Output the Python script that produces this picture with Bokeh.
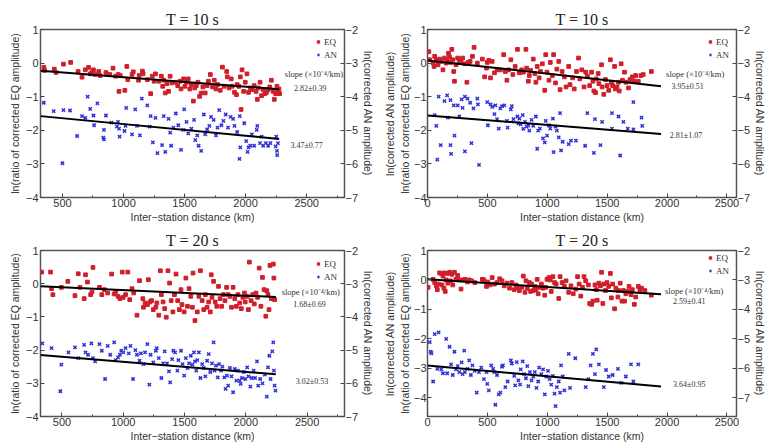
from bokeh.plotting import figure
from bokeh.models import Range1d, LinearAxis, SingleIntervalTicker, FixedTicker, Label
from bokeh.layouts import column, row
from bokeh.embed import file_html
from bokeh.resources import INLINE
import numpy as np

# ---------------- data ----------------
titles = ["T = 10 s", "T = 10 s", "T = 20 s", "T = 20 s"]
x_label = "Inter\u2212station distance (km)"
y_label_eq = "ln(ratio of corrected EQ amplitude)"
y_label_an = "ln(corrected AN amplitude)"
series_names = ["EQ", "AN"]
slope_title = "slope (\u00d710\u207b\u2074/km)"

# panel 1 (top left)
p1_eq_x = [348,353,433,447,508,567,628,660,687,714,727,741,754,767,797,808,856,888,914,936,957,963,973,1011,1027,1035,1070,1080,1123,1128,1155,1160,1195,1222,1235,1251,1262,1289,1310,1321,1329,1342,1356,1369,1382,1396,1422,1444,1463,1471,1492,1503,1516,1530,1543,1556,1572,1583,1596,1610,1623,1636,1650,1669,1685,1695,1711,1730,1743,1757,1770,1792,1810,1824,1845,1850,1864,1882,1890,1909,1925,1931,1944,1957,1963,1971,1984,1997,2011,2024,2038,2051,2070,2086,2096,2104,2118,2131,2144,2158,2171,2185,2198,2211,2225,2235,2246,2257,2265,2273,2278]
p1_eq_y = [-0.13,-0.22,-0.18,-0.28,-0.03,0.02,-0.25,-0.42,-0.20,-0.13,-0.32,-0.28,-0.20,-0.34,-0.25,-0.37,-0.28,-0.34,-0.15,-0.39,-0.34,-0.84,-0.37,-0.81,-0.10,-0.49,-0.34,-0.26,-0.51,-0.37,-0.24,-0.32,-0.49,-0.91,-0.39,-0.54,-0.32,-0.54,-0.39,-0.69,-0.51,-0.89,-0.61,-0.84,-0.39,-0.59,-0.57,-0.67,-0.54,-0.77,-0.47,-0.69,-0.57,-0.47,-0.77,-0.64,-1.13,-0.74,-0.67,-0.57,-0.99,-0.89,-0.71,-0.89,-0.67,-0.54,-0.34,-0.71,-0.51,-0.77,-0.64,-0.81,-0.12,-0.69,-0.25,-0.41,-0.74,-0.47,-0.69,-0.87,-0.94,-0.64,-0.69,-0.41,-1.38,-0.20,-0.84,-0.57,-0.32,-0.87,-0.74,-0.79,-0.67,-0.84,-1.08,-0.74,-0.57,-0.97,-0.79,-0.91,-0.87,-0.79,-0.71,-0.51,-0.84,-1.08,-0.91,-0.69,-0.85,-0.77,-0.91]
p1_an_x = [347,428,508,500,562,620,660,687,706,727,754,759,786,856,840,834,840,901,946,955,963,968,1008,1016,1022,1070,1096,1110,1134,1150,1195,1214,1222,1240,1262,1278,1316,1329,1342,1369,1382,1390,1409,1428,1449,1471,1489,1497,1516,1530,1556,1578,1588,1604,1615,1636,1658,1669,1685,1703,1717,1738,1757,1770,1784,1802,1818,1837,1856,1877,1898,1909,1931,1952,1957,1950,1989,2005,2016,2024,2038,2051,2070,2091,2096,2118,2131,2144,2166,2185,2203,2246,2251,2257,2265,2259]
p1_an_y = [-1.18,-1.43,-1.40,-2.98,-1.41,-2.17,-1.58,-1.63,-1.00,-1.36,-1.56,-1.85,-1.20,-1.56,-1.99,-2.22,-2.27,-1.77,-1.89,-1.75,-1.95,-2.19,-2.02,-1.87,-1.33,-2.12,-1.38,-1.87,-2.15,-1.06,-1.26,-1.89,-1.58,-2.36,-1.63,-2.68,-2.44,-1.58,-2.64,-1.66,-2.07,-2.46,-1.92,-1.50,-1.85,-2.58,-1.99,-1.38,-1.75,-2.09,-1.95,-1.69,-2.29,-2.15,-2.46,-2.61,-1.53,-2.12,-1.97,-1.87,-1.60,-1.69,-2.15,-1.92,-1.40,-1.85,-1.72,-1.53,-1.92,-1.60,-1.66,-1.87,-2.05,-1.58,-2.51,-2.85,-1.79,-2.32,-2.64,-2.51,-2.46,-2.12,-2.46,-1.99,-1.87,-2.38,-2.19,-2.46,-2.38,-2.46,-2.38,-2.48,-2.19,-2.61,-2.38,-2.74]

# panel 2 (top right)
p2_eq_x = [11,19,47,55,60,74,88,101,115,129,142,156,164,175,184,192,203,211,219,225,238,252,266,280,293,312,329,340,356,375,389,416,458,477,493,499,512,526,540,559,581,608,636,650,663,677,696,713,732,751,767,787,800,822,828,842,850,861,883,896,905,916,932,943,959,979,987,998,1014,1025,1042,1053,1069,1080,1096,1107,1124,1143,1157,1179,1190,1212,1225,1244,1261,1272,1288,1307,1321,1335,1354,1370,1381,1389,1403,1409,1425,1431,1453,1458,1472,1486,1499,1513,1527,1535,1546,1562,1568,1582,1595,1601,1617,1628,1645,1656,1678,1691,1710,1727,1738,1760,1782,1801,1869]
p2_eq_y = [0.34,0.10,0.00,-0.10,0.20,0.08,-0.05,0.12,0.05,-0.20,0.15,0.00,0.08,0.29,0.18,0.02,0.41,0.10,-0.25,-0.54,-0.05,0.15,0.08,0.02,0.15,-0.02,-0.57,0.02,0.05,0.20,0.47,0.00,0.12,-0.41,-0.15,0.02,0.08,-0.44,0.05,-0.29,-0.20,-0.20,0.25,-0.25,-0.51,-0.20,0.10,-0.34,-0.10,0.41,-0.29,-0.20,-0.27,0.41,-0.15,-0.54,-0.37,-0.22,0.12,-0.31,-0.57,-0.10,-0.44,-0.25,-0.02,-0.81,0.25,-0.27,-0.51,0.02,-0.37,0.25,-0.59,-0.18,0.05,-0.79,-0.25,-0.41,-0.71,-0.10,-0.64,-0.44,-0.77,-0.25,0.15,-0.47,-0.20,-0.71,-0.27,-0.39,-0.67,-0.27,-0.54,-0.83,-0.88,-0.47,-0.31,-0.61,-0.05,-0.71,-0.93,-0.49,-0.67,-0.81,0.10,-0.57,-0.67,-0.10,-0.77,-0.71,-0.57,-0.83,-0.02,-0.51,-0.27,-0.57,-0.74,-0.49,-0.41,-0.54,-0.37,-0.54,-0.37,-0.34,-0.25]
p2_an_x = [60,74,82,93,110,142,164,170,192,192,197,219,225,252,266,285,293,312,312,334,356,367,384,416,421,430,499,504,526,540,559,567,581,595,608,622,641,663,669,696,704,718,751,759,767,778,795,800,814,828,842,850,869,883,905,916,924,938,965,979,987,998,1014,1025,1047,1053,1069,1080,1096,1107,1115,1129,1179,1198,1239,1316,1335,1389,1398,1444,1458,1540,1540,1595,1609,1636,1672,1719,1719,1787,1793]
p2_an_y = [-1.55,-1.87,-2.87,-1.00,-2.44,-1.13,-0.96,-1.62,-1.10,-2.44,-2.70,-1.26,-2.16,-1.26,-1.59,-1.08,-1.33,-2.63,-1.00,-1.06,-1.18,-2.38,-1.35,-1.06,-1.23,-3.03,-1.16,-1.85,-1.23,-1.30,-1.52,-1.26,-1.67,-1.95,-1.35,-1.28,-1.26,-1.72,-1.92,-1.38,-1.28,-1.67,-1.59,-1.79,-1.65,-1.82,-1.55,-1.96,-1.75,-1.89,-1.85,-2.01,-1.69,-1.87,-1.59,-2.55,-2.01,-1.95,-2.24,-2.36,-1.72,-2.16,-1.85,-1.95,-1.65,-2.65,-1.89,-2.01,-2.21,-1.49,-2.60,-2.34,-2.41,-2.31,-2.31,-2.46,-1.49,-2.67,-1.67,-2.44,-1.75,-1.49,-1.95,-1.59,-2.75,-1.75,-1.95,-1.16,-1.97,-1.62,-1.87]

# panel 3 (bottom left)
p3_eq_x = [335,407,415,426,495,548,606,633,647,681,692,708,734,745,753,806,825,846,873,905,926,939,958,973,992,1000,1019,1037,1053,1072,1085,1112,1133,1160,1165,1178,1197,1205,1218,1231,1245,1266,1274,1290,1303,1311,1325,1338,1351,1365,1378,1391,1405,1418,1431,1444,1458,1471,1479,1497,1511,1524,1537,1551,1564,1569,1585,1604,1617,1630,1644,1657,1670,1684,1697,1710,1718,1724,1737,1750,1763,1777,1790,1803,1817,1830,1843,1856,1870,1883,1896,1910,1923,1936,1950,1963,1976,1989,1995,2011,2021,2029,2043,2056,2069,2083,2096,2109,2123,2136,2149,2163,2171,2181,2189,2197,2208,2224,2229,2235]
p3_eq_y = [0.35,0.35,-0.15,-0.33,-0.11,0.07,-0.36,0.30,-0.11,-0.45,0.27,0.05,-0.33,-0.25,0.49,-0.11,-0.33,-0.18,-0.28,0.29,-0.31,-0.23,-0.38,-0.45,0.35,-0.41,-0.33,0.35,-0.48,-0.15,-0.28,-0.95,0.09,-0.45,-0.71,-0.58,-0.63,0.12,-0.55,-0.51,-0.78,-0.71,-0.58,-0.95,0.39,-0.33,-0.55,-0.75,-1.01,0.39,0.02,-0.51,-0.85,-0.33,0.29,-0.51,-0.78,-0.18,-0.63,-0.85,0.17,-0.68,-0.15,-0.38,-0.71,0.32,-1.11,-0.85,-0.38,0.39,-0.51,-0.78,-0.33,-0.71,-0.55,-0.85,0.27,-0.41,0.07,-0.55,-0.68,-0.08,-0.45,-0.68,-0.33,-0.51,-0.11,-0.33,-0.38,-0.71,-0.11,-0.45,-0.68,-0.33,-0.58,-0.75,-0.41,-0.28,-0.55,-0.38,-0.78,0.65,-0.51,-0.33,-0.61,-0.28,-0.41,0.47,-0.68,0.19,-0.18,-0.98,-0.21,-0.33,-0.78,0.55,-0.45,0.59,0.17,-0.48]
p3_an_x = [340,415,495,487,553,606,633,681,692,713,740,753,771,806,825,852,873,894,926,939,958,973,984,1000,1019,1045,1059,1080,1099,1112,1133,1144,1165,1178,1197,1213,1223,1245,1266,1274,1290,1311,1325,1338,1357,1373,1383,1399,1409,1423,1442,1450,1471,1484,1497,1511,1524,1537,1551,1564,1577,1585,1596,1604,1617,1630,1644,1657,1670,1684,1697,1710,1724,1737,1745,1756,1771,1782,1798,1809,1825,1835,1846,1856,1870,1883,1896,1910,1923,1936,1950,1958,1968,1984,1995,2011,2021,2037,2048,2064,2075,2091,2101,2117,2136,2155,2171,2181,2192,2202,2216,2224,2229,2235,2242]
p3_an_y = [-1.80,-1.94,-2.44,-3.24,-2.07,-1.92,-2.24,-1.84,-2.07,-2.14,-1.80,-2.24,-2.34,-1.82,-2.02,-2.87,-1.87,-2.14,-1.77,-2.30,-2.22,-2.14,-2.02,-2.07,-1.94,-2.10,-1.87,-2.87,-2.00,-2.14,-2.32,-2.10,-2.42,-2.07,-1.82,-3.04,-2.14,-2.37,-2.02,-1.94,-2.24,-2.84,-2.40,-2.04,-2.40,-2.64,-2.97,-2.27,-2.02,-2.07,-2.62,-2.30,-2.02,-2.42,-2.77,-2.24,-2.54,-2.40,-2.17,-2.44,-2.07,-2.34,-2.62,-2.30,-2.07,-2.84,-2.42,-2.54,-2.79,-2.32,-2.12,-2.66,-2.40,-1.77,-2.62,-2.47,-2.82,-2.42,-2.62,-2.50,-2.82,-3.17,-2.77,-3.07,-2.54,-2.79,-3.27,-2.57,-2.92,-2.62,-2.92,-3.02,-2.84,-2.66,-2.87,-2.52,-2.79,-3.10,-2.84,-2.62,-2.84,-2.34,-3.07,-2.87,-3.00,-2.74,-3.40,-2.52,-2.17,-2.87,-2.04,-1.77,-2.62,-3.07,-3.22]

# panel 4 (bottom right)
p4_eq_x = [5,47,60,74,82,93,101,115,121,129,137,142,148,156,164,170,184,192,203,211,225,238,252,266,280,293,312,334,348,367,395,458,471,493,504,521,540,559,581,603,622,641,663,685,704,724,740,751,767,787,800,814,822,833,850,861,869,883,896,905,916,924,938,951,965,979,987,998,1014,1025,1033,1047,1061,1074,1096,1107,1124,1143,1157,1179,1198,1217,1239,1253,1266,1280,1294,1307,1321,1343,1354,1370,1381,1398,1409,1417,1431,1444,1453,1464,1472,1486,1499,1513,1527,1535,1546,1562,1573,1590,1595,1609,1623,1636,1645,1656,1672,1683,1699,1710,1727,1738,1760,1774,1787,1815,1869]
p4_eq_y = [-0.25,0.02,-0.09,-0.20,-0.33,-0.14,0.24,0.22,-0.17,0.13,-0.28,0.24,-0.39,0.00,0.22,-0.11,0.26,-0.03,0.19,-0.17,0.26,0.02,0.15,0.00,-0.31,0.00,0.02,-0.07,0.00,-0.03,-0.09,0.02,0.00,-0.22,-0.07,-0.17,0.08,-0.14,-0.09,0.04,-0.03,-0.20,-0.11,-0.28,-0.09,-0.33,-0.17,-0.25,-0.36,-0.25,0.13,-0.42,-0.03,-0.28,-0.09,-0.39,-0.14,-0.36,-0.22,-0.33,0.02,-0.47,-0.25,-0.14,-0.28,-0.52,-0.25,0.02,0.08,0.00,-0.39,0.11,-0.09,-0.14,-0.63,0.11,-0.09,-0.22,-0.03,-0.42,-0.20,-0.47,-0.31,0.11,-0.14,-0.55,-0.25,0.11,-0.03,-0.17,-0.80,-0.83,-0.72,-0.17,-0.33,-0.69,-0.11,-0.20,0.26,-0.80,-0.14,-0.36,-0.09,-0.22,0.22,-0.61,-0.14,-0.98,-0.28,-0.58,-0.36,-0.11,-0.72,-0.36,-0.72,-0.47,-0.39,-0.22,-0.50,-0.33,-0.83,-0.58,-0.22,-0.33,-0.28,-0.36,-0.52]
p4_an_x = [19,27,33,47,60,82,93,115,129,156,164,184,197,211,225,238,252,266,285,293,307,312,334,348,362,375,395,411,430,449,471,493,499,512,532,548,559,567,581,595,608,622,630,650,669,696,704,724,732,745,759,773,778,795,806,822,833,842,855,869,883,896,910,924,932,951,965,979,992,1006,1020,1033,1047,1061,1069,1080,1096,1107,1115,1129,1143,1179,1190,1234,1321,1343,1362,1381,1398,1409,1431,1472,1491,1513,1546,1590,1617,1656,1699,1719,1760]
p4_an_y = [-2.11,-2.44,-2.49,-3.45,-1.84,-3.02,-1.78,-3.04,-3.17,-2.00,-3.17,-2.27,-2.87,-3.23,-2.44,-3.04,-2.93,-3.13,-2.80,-3.20,-2.40,-3.13,-3.02,-2.73,-3.23,-2.90,-3.09,-3.83,-3.13,-2.98,-3.37,-3.13,-3.53,-3.75,-2.90,-3.02,-3.13,-4.24,-3.23,-3.89,-3.83,-2.95,-2.90,-3.64,-3.45,-2.73,-2.84,-3.26,-3.58,-2.79,-3.41,-3.56,-3.04,-2.77,-3.20,-3.34,-2.93,-3.61,-3.13,-3.41,-3.28,-3.13,-3.67,-3.45,-2.98,-3.20,-3.04,-3.89,-3.28,-3.09,-3.37,-3.56,-3.26,-3.86,-4.29,-3.64,-3.45,-3.83,-2.90,-3.28,-3.75,-2.51,-3.67,-2.66,-3.64,-3.37,-2.90,-2.51,-3.20,-2.36,-2.87,-3.64,-3.06,-3.28,-3.23,-3.02,-3.50,-3.28,-2.87,-3.45,-2.87]

# fitted lines: slope (x1e-4 /km, magnitude), its error, intercept at distance 0
eq_slopes = [2.82, 3.95, 1.68, 2.59]
eq_errors = [0.39, 0.51, 0.69, 0.41]
eq_intercepts = [-0.138, 0.08, -0.025, 0.02]
an_slopes = [3.47, 2.81, 3.02, 3.64]
an_errors = [0.77, 1.07, 0.53, 0.95]
an_intercepts = [-1.467, -1.56, -2.05, -2.91]
fit_spans = [[320, 2275], [0, 1950], [325, 2245], [0, 1950]]

# axis extents
x_ranges = [[320, 2810], [0, 2580], [325, 2805], [0, 2580]]
y_ranges = [[-4, 1], [-4, 1], [-4, 1], [-4.64, 1]]
right_offset = 3   # ln(corrected AN amplitude) = left value - 3

# ---------------- styling ----------------
SANS = "Liberation Sans"
SERIF = "Liberation Serif"
RED = "#cf1f2a"
BLUE = "#3030d8"
TXT = "#333333"


def style_axis(ax, interval, minor, std=2, lstd=2):
    ax.ticker = SingleIntervalTicker(interval=interval, num_minor_ticks=minor)
    ax.major_tick_in = 4
    ax.major_tick_out = 0
    ax.minor_tick_in = 2
    ax.minor_tick_out = 0
    ax.axis_line_color = None
    ax.major_tick_line_color = "#444444"
    ax.minor_tick_line_color = "#444444"
    ax.major_label_text_font = SANS
    ax.major_label_text_font_size = "11px"
    ax.major_label_text_color = TXT
    ax.major_label_standoff = std
    ax.axis_label_text_font = SANS
    ax.axis_label_text_font_size = "10.5px"
    ax.axis_label_text_font_style = "normal"
    ax.axis_label_text_color = TXT
    ax.axis_label_standoff = lstd


def make_panel(i, eq_x, eq_y, an_x, an_y, width, height, borders, texts, two_labels):
    xr, yr = x_ranges[i], y_ranges[i]
    bl, br, bt, bb = borders
    p = figure(width=width, height=height, x_range=Range1d(*xr), y_range=Range1d(*yr),
               output_backend="svg", toolbar_location=None,
               min_border_left=bl, min_border_right=br,
               min_border_top=bt, min_border_bottom=bb)
    p.background_fill_color = "white"
    p.border_fill_color = "white"
    p.xgrid.visible = False
    p.ygrid.visible = False
    p.outline_line_color = "#555555"
    p.outline_line_width = 1.5

    p.title.text = titles[i]
    p.title.align = "center"
    p.title.text_font = SERIF
    p.title.text_font_size = "16px"
    p.title.text_font_style = "normal"
    p.title.text_color = "#222222"
    p.title.standoff = 4

    style_axis(p.xaxis[0], 500, 2, std=1, lstd=1)
    p.xaxis[0].axis_label = x_label
    if two_labels:
        style_axis(p.yaxis[0], 1, 0, std=1, lstd=0)
    else:
        style_axis(p.yaxis[0], 1, 0)
    p.yaxis[0].axis_label = y_label_eq

    p.extra_y_ranges = {"an": Range1d(yr[0] - right_offset, yr[1] - right_offset)}
    rax = LinearAxis(y_range_name="an", axis_label=y_label_an)
    style_axis(rax, 1, 0, std=1, lstd=1)
    p.add_layout(rax, "right")

    if two_labels:
        lab = LinearAxis(axis_label=y_label_an, ticker=FixedTicker(ticks=[]))
        lab.axis_line_color = None
        lab.major_tick_line_color = None
        lab.minor_tick_line_color = None
        lab.major_label_standoff = 0
        lab.axis_label_text_font = SANS
        lab.axis_label_text_font_size = "10.5px"
        lab.axis_label_text_font_style = "normal"
        lab.axis_label_text_color = TXT
        lab.axis_label_standoff = 0
        p.add_layout(lab, "left")

    p.scatter(eq_x, eq_y, marker="square", size=3.7, fill_color=RED, line_color=RED,
              legend_label=series_names[0])
    p.scatter(an_x, an_y, marker="x", size=4.6, line_color=BLUE, line_width=1.5,
              legend_label=series_names[1])

    xs = np.array(fit_spans[i], dtype=float)
    p.line(xs, eq_intercepts[i] - eq_slopes[i] * 1e-4 * xs, line_color="black", line_width=2)
    p.line(xs, an_intercepts[i] - an_slopes[i] * 1e-4 * xs, line_color="black", line_width=2)

    # legend placed near the top-right corner of the frame
    frame_w = width - bl - br
    frame_h = height - bt - bb
    lg = p.legend[0]
    lg.location = (int(frame_w * 0.875) + 9, frame_h - 33)
    lg.background_fill_alpha = 0
    lg.border_line_alpha = 0
    lg.label_text_font = SERIF
    lg.label_text_font_size = "9px"
    lg.label_text_color = TXT
    lg.glyph_width = 6
    lg.glyph_height = 13
    lg.label_height = 13
    lg.spacing = 0
    lg.padding = 0
    lg.margin = 0
    lg.label_standoff = 3

    (sx, sy), (v1x, v1y), (v2x, v2y) = texts
    for tx, ty, txt, fs in [(sx, sy, slope_title, "8.5px"),
                            (v1x, v1y, f"{eq_slopes[i]:.2f}\u00b1{eq_errors[i]:.2f}", "8px"),
                            (v2x, v2y, f"{an_slopes[i]:.2f}\u00b1{an_errors[i]:.2f}", "8px")]:
        p.add_layout(Label(x=tx, y=ty, text=txt, text_align="center", text_baseline="middle",
                           text_font=SERIF, text_font_size=fs, text_color=TXT))
    return p


p1 = make_panel(0, p1_eq_x, p1_eq_y, p1_an_x, p1_an_y, 380, 225, (40, 36, 29, 27),
                [(2560, -0.32), (2530, -0.77), (2500, -2.46)], False)
p2 = make_panel(1, p2_eq_x, p2_eq_y, p2_an_x, p2_an_y, 392, 225, (46, 36, 29, 27),
                [(2235, -0.31), (2172, -0.71), (2158, -2.14)], True)
p3 = make_panel(2, p3_eq_x, p3_eq_y, p3_an_x, p3_an_y, 380, 223, (40, 36, 25, 32),
                [(2530, -0.25), (2520, -0.63), (2540, -2.95)], False)
p4 = make_panel(3, p4_eq_x, p4_eq_y, p4_an_x, p4_an_y, 392, 223, (46, 36, 25, 26),
                [(2226, -0.36), (2185, -0.72), (2185, -3.56)], True)

layout = column(row(p1, p2), row(p3, p4))
open("out.html", "w").write(file_html(layout, INLINE))
